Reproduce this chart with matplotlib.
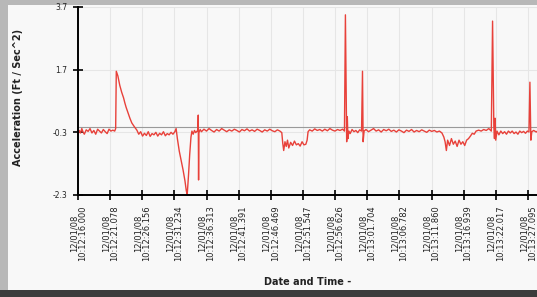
import matplotlib.pyplot as plt
from matplotlib.patches import Rectangle

# x tick labels (date / time of each sample mark)
tick_dates = ['12/01/08'] * 15
tick_times = ['10:12:16.000', '10:12:21.078', '10:12:26.156', '10:12:31.234', '10:12:36.313',
              '10:12:41.391', '10:12:46.469', '10:12:51.547', '10:12:56.626', '10:13:01.704',
              '10:13:06.782', '10:13:11.860', '10:13:16.939', '10:13:22.017', '10:13:27.095']
y_ticks = [-2.3, -0.3, 1.7, 3.7]
ref_level = -0.13

# acceleration trace, seconds after 10:12:16.000
t_sec = [0.0, 0.2, 0.4, 0.6, 0.8, 1.0, 1.3, 1.6, 1.9, 2.2, 2.5, 2.8, 3.1, 3.4, 3.7, 4.0, 4.3, 4.6, 4.9, 5.2, 5.5, 5.8, 5.95,
         6.05, 6.3, 6.6, 6.9, 7.2, 7.4, 7.6, 7.9, 8.2, 8.5, 8.9, 9.3, 9.6,
         9.9, 10.2, 10.5, 10.8, 11.1, 11.4, 11.7, 12.0, 12.3, 12.6, 12.9, 13.2, 13.5, 13.8, 14.1, 14.4, 14.7, 15.0, 15.3, 15.5,
         15.7, 16.0, 16.3, 16.6, 16.9, 17.1, 17.25, 17.45, 17.65, 17.85, 18.0, 18.2, 18.4, 18.6, 18.8,
         18.95, 19.0, 19.05, 19.1, 19.3, 19.5,
         19.9, 20.3, 20.7, 21.1, 21.5, 21.9, 22.3, 22.7, 23.1, 23.5, 23.9, 24.3, 24.7, 25.1, 25.5, 25.9, 26.3, 26.7,
         27.1, 27.5, 27.9, 28.3, 28.7, 29.1, 29.5, 29.9, 30.3, 30.7, 31.1, 31.5, 31.9,
         32.2, 32.35, 32.5, 32.7, 32.9, 33.1, 33.3, 33.6, 33.9, 34.2, 34.5, 34.8, 35.1, 35.4, 35.7, 36.0, 36.2, 36.35,
         36.6, 37.0, 37.4, 37.8, 38.2, 38.6, 39.0, 39.4, 39.8, 40.2, 40.6, 41.0, 41.4, 41.8, 42.1,
         42.25, 42.45, 42.55, 42.65, 42.8, 43.0, 43.3, 43.6, 43.9, 44.2, 44.5, 44.8, 44.95, 45.05, 45.2,
         45.5, 45.9, 46.3, 46.7, 47.1, 47.5, 47.9, 48.3, 48.7, 49.1, 49.5, 49.9, 50.3, 50.7, 51.1, 51.5, 51.9,
         52.3, 52.7, 53.1, 53.5, 53.9, 54.3, 54.7, 55.1, 55.5, 55.9, 56.3, 56.7, 57.1, 57.5,
         57.8, 58.0, 58.2, 58.4, 58.7, 59.0, 59.3, 59.6, 59.9, 60.2, 60.5, 60.8, 61.1, 61.4, 61.7, 62.0, 62.3, 62.6, 62.9,
         63.3, 63.7, 64.1, 64.5, 64.9, 65.3,
         65.5, 65.7, 65.8, 65.9, 66.0, 66.2, 66.5, 66.8, 67.1, 67.4, 67.7, 68.0, 68.3, 68.6, 68.9, 69.2, 69.5, 69.8,
         70.1, 70.4, 70.7, 71.0, 71.25, 71.4, 71.55, 71.7, 72.0, 72.4, 72.8, 73.2]
accel_fts2 = [-0.38, -0.24, -0.32, -0.18, -0.29, -0.36, -0.22, -0.27, -0.18, -0.32, -0.24, -0.36, -0.2, -0.26, -0.32, -0.21, -0.28, -0.34, -0.2, -0.26, -0.23, -0.26, -0.18,
              1.65, 1.5, 1.2, 0.98, 0.8, 0.64, 0.5, 0.32, 0.15, 0.0, -0.12, -0.23, -0.36,
              -0.28, -0.42, -0.33, -0.4, -0.28, -0.43, -0.34, -0.38, -0.3, -0.42, -0.33, -0.38, -0.28, -0.41, -0.34, -0.38, -0.3, -0.36, -0.28, -0.18,
              -0.5, -0.9, -1.2, -1.5, -1.85, -2.15, -2.3, -1.7, -1.0, -0.45, -0.26, -0.36, -0.24, -0.31, -0.26,
              -0.26, 0.25, -1.82, -0.31, -0.21, -0.28,
              -0.2, -0.26, -0.18, -0.24, -0.29, -0.21, -0.26, -0.18, -0.23, -0.28, -0.22, -0.26, -0.2, -0.24, -0.29, -0.21, -0.25, -0.19,
              -0.26, -0.22, -0.27, -0.2, -0.24, -0.29, -0.22, -0.26, -0.2, -0.25, -0.28, -0.22, -0.26,
              -0.31, -0.65, -0.88, -0.6, -0.75, -0.55, -0.8, -0.62, -0.72, -0.58, -0.7, -0.66, -0.74, -0.6, -0.7, -0.68, -0.55, -0.28,
              -0.22, -0.26, -0.19, -0.24, -0.21, -0.26, -0.2, -0.25, -0.18, -0.23, -0.26, -0.21, -0.24, -0.2, -0.26,
              3.45, -0.6, 0.2, -0.5, -0.26, -0.34, -0.21, -0.28, -0.24, -0.31, -0.22, -0.26, 1.65, -0.6, -0.26,
              -0.21, -0.28, -0.23, -0.18, -0.26, -0.22, -0.29, -0.21, -0.25, -0.2, -0.27, -0.23, -0.29, -0.22, -0.26, -0.31, -0.23,
              -0.27, -0.21, -0.29, -0.24, -0.28, -0.22, -0.26, -0.3, -0.23, -0.27, -0.24, -0.29, -0.26, -0.32,
              -0.45, -0.6, -0.88, -0.55, -0.72, -0.5, -0.68, -0.58, -0.75, -0.55, -0.68, -0.6, -0.72, -0.55, -0.5, -0.42, -0.33, -0.36, -0.26,
              -0.23, -0.26, -0.21, -0.24, -0.18, -0.26,
              3.25, -0.1, -0.5, 0.15, -0.55, -0.26, -0.38, -0.26, -0.34, -0.28, -0.36, -0.26, -0.32, -0.26, -0.34, -0.29, -0.36, -0.26,
              -0.31, -0.27, -0.33, -0.26, -0.29, 1.3, -0.55, -0.28, -0.24, -0.29, -0.23, -0.26]


def to_sec(s):
    h, m, sec = s.split(':')
    return int(h) * 3600 + int(m) * 60 + float(sec)


t0 = to_sec(tick_times[0])
tick_pos = [to_sec(s) - t0 for s in tick_times]
tick_text = [d + '\n' + s for d, s in zip(tick_dates, tick_times)]

fig = plt.figure(figsize=(5.37, 2.97), dpi=100)
fig.patch.set_facecolor('#b8b8b8')

# background axes holding the screen panel and the dark bottom edge
bg = fig.add_axes([0, 0, 1, 1], zorder=0)
bg.set_axis_off()
bg.set_xlim(0, 537)
bg.set_ylim(297, 0)
bg.add_patch(Rectangle((8, 5), 540, 285, facecolor='#f8f8f8', edgecolor='none'))
bg.add_patch(Rectangle((0, 290), 540, 10, facecolor='#3c3c3c', edgecolor='none'))

# axes run past the right edge of the picture
left_px, right_px = 78, 570
ax = fig.add_axes([left_px / 537, 102 / 297, (right_px - left_px) / 537, 188 / 297], zorder=2)
ax.patch.set_alpha(0)

px_per_sec = 32.14 / (tick_pos[1] - tick_pos[0])
ax.set_xlim(0, (right_px - left_px) / px_per_sec)
ax.set_ylim(-2.3, 3.7)

ax.grid(True, color='#e6e6e6', lw=0.8)
ax.set_axisbelow(True)
ax.axhline(ref_level, color='#9a9a9a', lw=0.8, zorder=1)
ax.plot(t_sec, accel_fts2, color='#e8413a', lw=1.0, zorder=2)

for s in ['top', 'right']:
    ax.spines[s].set_visible(False)
for s in ['left', 'bottom']:
    ax.spines[s].set_linewidth(1.4)

ax.set_yticks(y_ticks)
ax.set_yticklabels(['%.1f' % v for v in y_ticks], fontsize=5.5, color='#222222')
ax.set_xticks(tick_pos)
ax.set_xticklabels(tick_text, rotation=90, fontsize=6, color='#222222',
                   linespacing=0.95, va='top', ha='center')
ax.tick_params(direction='inout', length=7, width=1.2, pad=4)

fig.text(18 / 537, 1 - 97 / 297, 'Acceleration (Ft / Sec^2)', rotation=90, fontsize=7,
         fontweight='bold', ha='center', va='center', color='#222222', zorder=3)
fig.text(308 / 537, 1 - 282 / 297, 'Date and Time -', fontsize=7, fontweight='bold',
         ha='center', va='center', color='#222222', zorder=3)

fig.savefig('out.png', dpi=100, facecolor=fig.get_facecolor())
